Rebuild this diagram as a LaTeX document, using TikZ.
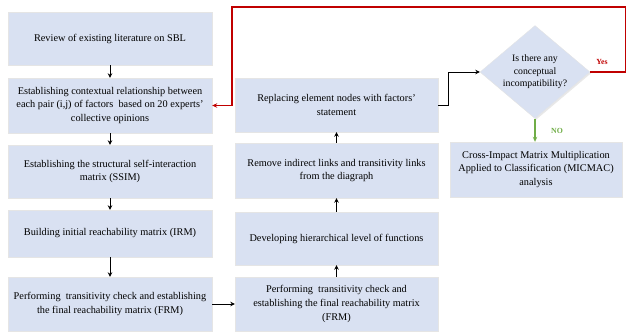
\documentclass[tikz,border=0pt]{standalone}
\usepackage{fontspec}
\setmainfont{Liberation Serif}
\usetikzlibrary{shapes.geometric,arrows.meta,shadows}
\definecolor{boxfill}{HTML}{D9E1F2}
\definecolor{darkred}{HTML}{C00000}
\definecolor{okgreen}{HTML}{70AD47}
\begin{document}
\begin{tikzpicture}[x=1pt,y=-1pt,
  stepbox/.style={draw=white!80!gray, line width=0.4pt, fill=boxfill, align=center,
    font=\fontsize{10.3}{13.6}\selectfont, inner sep=0pt,
    drop shadow={opacity=0.18, shadow xshift=1.2pt, shadow yshift=-1.2pt}},
  decision/.style={shape=diamond, draw=white!80!gray, fill=boxfill, align=center,
    font=\fontsize{9.8}{12.5}\selectfont, inner sep=0pt, aspect=1.18,
    minimum width=110pt, minimum height=93pt,
    drop shadow={opacity=0.18, shadow xshift=1.2pt, shadow yshift=-1.2pt}},
  flow/.style={draw=black, line width=0.9pt, -{Stealth[length=4.5pt,width=4.5pt]}},
  backflow/.style={draw=darkred, line width=1.3pt, -{Stealth[length=5pt,width=4.5pt]}},
  noflow/.style={draw=okgreen, line width=1.3pt, -{Stealth[length=5pt,width=4.5pt]}},
  lbl/.style={font=\fontsize{7.8}{9}\selectfont\bfseries, inner sep=0pt}
]
\useasboundingbox (0,0) rectangle (626,333);

% left column
\node[stepbox, minimum width=204pt, minimum height=53pt] (L1) at (110,38.5) {Review of existing literature on SBL};
\node[stepbox, minimum width=204pt, minimum height=55pt] (L2) at (110,105.5) {Establishing contextual relationship between\\each pair (i,j) of factors\ \ based on 20 experts’\\collective opinions};
\node[stepbox, minimum width=204pt, minimum height=53pt] (L3) at (110,171.5) {Establishing the structural self-interaction\\matrix (SSIM)};
\node[stepbox, minimum width=204pt, minimum height=47pt] (L4) at (110,233.5) {Building initial reachability matrix (IRM)};
\node[stepbox, minimum width=204pt, minimum height=54pt] (L5) at (110,304) {Performing\ \ transitivity check and establishing\\the final reachability matrix (FRM)};

% middle column
\node[stepbox, minimum width=203pt, minimum height=54pt] (M1) at (336.5,105) {Replacing element nodes with factors’\\statement};
\node[stepbox, minimum width=203pt, minimum height=55pt] (M2) at (336.5,170.5) {Remove indirect links and transitivity links\\from the diagraph};
\node[stepbox, minimum width=203pt, minimum height=53pt] (M3) at (336.5,238.5) {Developing hierarchical level of functions};
\node[stepbox, minimum width=203pt, minimum height=54pt] (M4) at (336.5,304) {Performing\ \ transitivity check and\\establishing the final reachability matrix\\(FRM)};

% right
\node[decision] (D) at (535,72) {Is there any\\conceptual\\incompatibility?};
\node[stepbox, minimum width=172pt, minimum height=55pt] (MIC) at (536,169.5) {Cross-Impact Matrix Multiplication\\Applied to Classification (MICMAC)\\analysis};

% connectors
\draw[flow] (L1) -- (L2);
\draw[flow] (L2) -- (L3);
\draw[flow] (L3) -- (L4);
\draw[flow] (L4) -- (L5);
\draw[flow] (L5.east) -- (M4.west);
\draw[flow] (M4) -- (M3);
\draw[flow] (M3) -- (M2);
\draw[flow] (M2) -- (M1);
\coordinate (k1) at (448,105);
\coordinate (k2) at (448,72);
\draw[flow] (M1.east) -- (k1) -- (k2) -- (D.west);
\draw[noflow] (D.south) -- (D.south |- MIC.north);
\coordinate (r1) at (626,72);
\coordinate (r2) at (626,7);
\coordinate (r3) at (232,7);
\coordinate (r4) at (232,105.5);
\draw[backflow] (D.east) -- (r1) -- (r2) -- (r3) -- (r4) -- (L2.east);

\node[lbl, text=darkred] (yes) at (602,62) {Yes};
\node[lbl, text=okgreen] (no) at (557,131) {NO};
\end{tikzpicture}
\end{document}
